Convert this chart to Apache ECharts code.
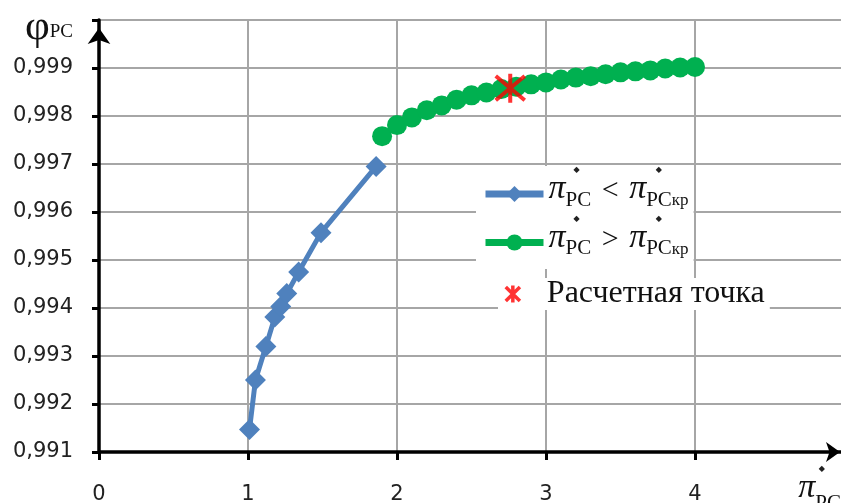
<!DOCTYPE html>
<html>
<head>
<meta charset="utf-8">
<script src="https://cdn.jsdelivr.net/npm/echarts@6/dist/echarts.min.js"></script>
<style>
  html, body { margin: 0; padding: 0; background: #fff; }
  #chart { width: 841px; height: 503px; }
</style>
</head>
<body>
<div id="chart"></div>
<script>
// π*PC below the critical value
const xLow = [1.01, 1.05, 1.12, 1.18, 1.22, 1.26, 1.34, 1.49, 1.86];
const yLow = [0.99147, 0.99250, 0.99320, 0.99381, 0.99403, 0.99430, 0.99475, 0.99557, 0.99695];

// π*PC above the critical value
const xHigh = [1.9, 2.0, 2.1, 2.2, 2.3, 2.4, 2.5, 2.6, 2.7, 2.8, 2.9,
               3.0, 3.1, 3.2, 3.3, 3.4, 3.5, 3.6, 3.7, 3.8, 3.9, 4.0];
const yHigh = [0.99758, 0.99781, 0.99797, 0.99812, 0.99822, 0.99834, 0.99843, 0.99849, 0.99856, 0.99861, 0.99866,
               0.99870, 0.99876, 0.99880, 0.99883, 0.99887, 0.99891, 0.99893, 0.99895, 0.99899, 0.99901, 0.99902];

// design point
const xDesign = [2.76];
const yDesign = [0.99858];

const xTicks = { min: 0, max: 5, step: 1 };
const yTicks = { min: 0.991, max: 1.000, step: 0.001 };

const nameLow = 'πPC < πPCкр';
const nameHigh = 'πPC > πPCкр';
const nameDesign = 'Расчетная точка';

const zip = (xs, ys) => xs.map((x, i) => [x, ys[i]]);

const serif = 'Liberation Serif';
const ink = '#111';
const starPath = 'path://M1 1L11 11M11 1L1 11M6 0L6 12';

// rich styles: a short line of dots above, then π with subscripts
const dotStyle = { fontFamily: 'DejaVu Sans', fontSize: 8, lineHeight: 5, color: '#222' };
const legendRich = {
  dA: Object.assign({}, dotStyle, { padding: [0, 0, 0, 25] }),
  dB: Object.assign({}, dotStyle, { padding: [0, 0, 0, 76] }),
  pi: { fontFamily: serif, fontStyle: 'italic', fontSize: 34, verticalAlign: 'top', color: ink },
  op: { fontFamily: serif, fontSize: 30, verticalAlign: 'top', padding: [4, 3, 0, 3], color: ink },
  sub: { fontFamily: serif, fontSize: 21, verticalAlign: 'top', padding: [17, 0, 0, 0], color: ink },
  kr: { fontFamily: serif, fontSize: 17, verticalAlign: 'top', padding: [20, 0, 11, 0], color: ink },
  rt: { fontFamily: serif, fontSize: 32, lineHeight: 28, color: ink }
};

function legendText(name) {
  if (name === nameLow) {
    return '{dA|◆}{dB|◆}\n{pi|π}{sub|PC}{op| < }{pi|π}{sub|PC}{kr|кр}';
  }
  if (name === nameHigh) {
    return '{dA|◆}{dB|◆}\n{pi|π}{sub|PC}{op| > }{pi|π}{sub|PC}{kr|кр}';
  }
  return '{rt|' + name + '}';
}

const legendBase = {
  orient: 'vertical',
  backgroundColor: '#fff',
  itemWidth: 58,
  selectedMode: false,
  formatter: legendText,
  textStyle: { fontFamily: serif, color: ink, rich: legendRich }
};

const chart = echarts.init(document.getElementById('chart'), null, { renderer: 'canvas' });

chart.setOption({
  animation: false,
  backgroundColor: '#fff',
  grid: { left: 99, top: 20, width: 745, height: 432, containLabel: false, outerBoundsMode: 'none' },
  legend: [
    Object.assign({}, legendBase, {
      left: 476,
      top: 166,
      padding: [0, 5, 10, 6],
      itemHeight: 20,
      itemGap: 4,
      lineStyle: { width: 7 },
      data: [{ name: nameLow }, { name: nameHigh }]
    }),
    Object.assign({}, legendBase, {
      left: 498,
      top: 278,
      padding: [0, 5, 0, 6],
      itemHeight: 17,
      data: [{ name: nameDesign, icon: starPath, itemStyle: { borderWidth: 3.5 } }]
    })
  ],
  xAxis: {
    type: 'value',
    min: xTicks.min,
    max: xTicks.max,
    interval: xTicks.step,
    name: '{d|◆}\n{pi|π}{sub|PC}',
    nameLocation: 'end',
    nameGap: -3,
    nameTextStyle: {
      align: 'right',
      verticalAlign: 'top',
      padding: [14, 0, 0, 0],
      rich: {
        d: Object.assign({}, dotStyle, { padding: [0, 16, 0, 0] }),
        pi: { fontFamily: serif, fontStyle: 'italic', fontSize: 34, verticalAlign: 'top', color: ink },
        sub: { fontFamily: serif, fontSize: 21, verticalAlign: 'top', padding: [22, 0, 0, 0], color: ink }
      }
    },
    axisLine: {
      show: true,
      onZero: false,
      symbol: ['none', 'arrow'],
      symbolSize: [15, 14],
      symbolOffset: [0, -4],
      lineStyle: { color: '#000', width: 3.5 }
    },
    axisTick: { show: true, inside: false, length: 8, lineStyle: { color: '#000', width: 3 } },
    axisLabel: {
      margin: 32,
      fontFamily: 'DejaVu Sans',
      fontSize: 21,
      color: '#222',
      formatter: v => (v >= xTicks.max ? '' : String(v))
    },
    splitLine: { show: true, lineStyle: { color: '#a6a6a6', width: 2 } }
  },
  yAxis: {
    type: 'value',
    min: yTicks.min,
    max: yTicks.max,
    interval: yTicks.step,
    axisLine: {
      show: true,
      onZero: false,
      symbol: ['none', 'arrow'],
      symbolSize: [17, 16],
      symbolOffset: [0, -8],
      lineStyle: { color: '#000', width: 3.5 }
    },
    axisTick: { show: true, inside: false, length: 7, lineStyle: { color: '#000', width: 3 } },
    axisLabel: {
      margin: 26,
      fontFamily: 'DejaVu Sans',
      fontSize: 21,
      color: '#222',
      formatter: v => (Math.abs(v - yTicks.max) < 1e-9
        ? '{phi|φ}{pc|PC}'
        : v.toFixed(3).replace('.', ',')),
      rich: {
        phi: { fontFamily: serif, fontSize: 43, verticalAlign: 'top', padding: [16, 0, 0, 0], color: ink },
        pc: { fontFamily: serif, fontSize: 19, verticalAlign: 'top', padding: [32, 0, 0, 0], color: ink }
      }
    },
    splitLine: { show: true, lineStyle: { color: '#a6a6a6', width: 2 } }
  },
  series: [
    {
      name: nameLow,
      type: 'line',
      data: zip(xLow, yLow),
      symbol: 'diamond',
      symbolSize: 21,
      lineStyle: { color: '#4f81bd', width: 5 },
      itemStyle: { color: '#4f81bd' },
      z: 2
    },
    {
      name: nameHigh,
      type: 'line',
      data: zip(xHigh, yHigh),
      symbol: 'circle',
      symbolSize: 20,
      lineStyle: { color: '#00b050', width: 5 },
      itemStyle: { color: '#00b050' },
      z: 3
    },
    {
      name: nameDesign,
      type: 'scatter',
      data: zip(xDesign, yDesign),
      symbol: starPath,
      symbolSize: 29,
      itemStyle: { color: 'rgba(0,0,0,0)', borderColor: '#ff0000', borderWidth: 4 },
      z: 4
    }
  ]
});
</script>
</body>
</html>
